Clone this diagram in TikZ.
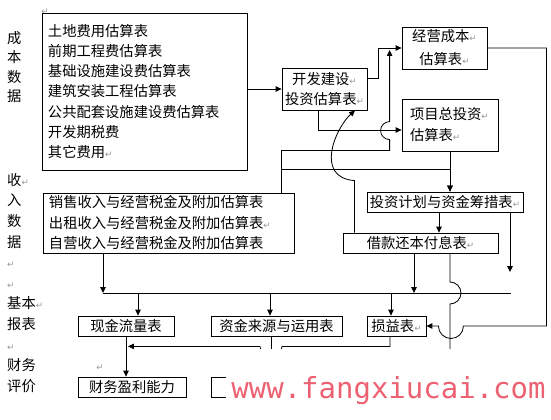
\documentclass[tikz,border=0pt]{standalone}
\usepackage{fontspec}
\setmainfont{Noto Sans CJK SC}
\newfontfamily\symfont{DejaVu Sans}
\newfontfamily\wmfont{DejaVu Sans Mono}
\usetikzlibrary{positioning,arrows.meta,calc}
\definecolor{RetGray}{RGB}{150,150,150}
\definecolor{MarkRed}{RGB}{236,98,114}
\newcommand{\ret}{{\symfont\fontsize{7.5}{7.5}\selectfont\textcolor{RetGray}{↵}}}

\begin{document}
\begin{tikzpicture}[x=0.03cm, y=0.03cm,
  every node/.style={font=\fontsize{12.2}{17.3}\selectfont, inner sep=0pt},
  tbl/.style={draw, line width=0.7pt, minimum height=0.6cm},
  wire/.style={line width=0.7pt},
  lnk/.style={wire, -{Triangle[length=5pt,width=4.6pt]}}]
  \useasboundingbox (0,0) rectangle (551,-420);

  % side labels
  \node[anchor=west, align=left, font=\fontsize{12.2}{16.5}\selectfont] (costlab) at (7,-67) {成\\本\\数\\据};
  \node[anchor=west, align=left, font=\fontsize{12.2}{17.58}\selectfont] (sidelab) at (7,-283)
    {收\ret\\入\\数\\据\\\ret\\\ret\\基本\ret\\报表\\\ret\\财务\\评价};
  \node (rettop) at (45,-12) {\ret};
  \node (reteval) at (100,-368) {\ret};

  % input tables
  \node[tbl, minimum width=6.15cm, minimum height=4.71cm, align=left, text width=5.79cm] (cost) at (144.5,-91.5)
    {土地费用估算表\\前期工程费估算表\\基础设施建设费估算表\\建筑安装工程估算表\\公共配套设施建设费估算表\\开发期税费\\其它费用\ret};
  \node[tbl, minimum width=7.53cm, minimum height=1.8cm, align=left, text width=7.17cm, font=\fontsize{12.2}{17.5}\selectfont] (shouru) at (168.5,-223)
    {销售收入与经营税金及附加估算表\\出租收入与经营税金及附加估算表\ret\\自营收入与经营税金及附加估算表};

  % auxiliary tables
  \node[tbl, minimum width=2.55cm, minimum height=1.26cm, align=center] (kaifa) at (324.5,-89) {开发建设\ret\\投资估算表\ret};
  \node[tbl, minimum width=2.55cm, minimum height=1.26cm, align=center, font=\fontsize{12.2}{19.6}\selectfont] (jingying) at (444.5,-48) {经营成本\ret\\估算表\ret};
  \node[tbl, minimum width=2.88cm, minimum height=1.56cm, align=left, text width=2.4cm, font=\fontsize{12.2}{17.9}\selectfont] (zongtouzi) at (450,-125) {项目总投资\ret\\估算表\ret};
  \node[tbl, minimum width=4.68cm] (jihua) at (445,-202) {投资计划与资金筹措表\ret};
  \node[tbl, minimum width=4.65cm] (jiekuan) at (420.5,-243) {借款还本付息表\ret};

  % basic and evaluation tables
  \node[tbl, minimum width=2.88cm] (xianjin) at (126,-326) {现金流量表};
  \node[tbl, minimum width=3.93cm] (zijin) at (276.5,-326) {资金来源与运用表};
  \node[tbl, minimum width=1.77cm] (sunyi) at (396.5,-326) {损益表\ret};
  \node[tbl, minimum width=3.24cm] (yingli) at (132,-387) {财务盈利能力};
  \node[tbl, minimum width=3.24cm] (changzhai) at (265,-387) {};

  \coordinate (busl) at (103,-293);
  \coordinate (busr) at (511,-293);
  \coordinate (jhend) at (510,-272);
  \coordinate (jkend) at (450,-370);

  % upper links
  \draw[lnk] (cost.east |- kaifa.west) -- (kaifa.west);
  \draw[lnk] ($(kaifa.east)+(0,11)$) -- ++(11,0) |- (jingying.west);
  \draw[lnk] ($(kaifa.south)+(-6.5,0)$) |- ($(zongtouzi.west)+(0,-5)$);
  \draw[lnk] (kaifa.west |- shouru.north) -- ++(0,42) -- ++(108,0) -- ++(0,11)
    arc[start angle=270, end angle=90, radius=9] -- ($(jingying.west)+(-12,-2)$);
  \draw[lnk] (kaifa.west |- shouru.north) -- ++(0,23) -| (zongtouzi.south |- jihua.north);
  \draw[lnk] (zongtouzi.south) -- (zongtouzi.south |- jihua.north);
  \draw[lnk] ($(jiekuan.north)+(-66,0)$) -- ++(0,52) .. controls +(-40,3) and +(-20,-18) .. ($(kaifa.south)+(30.5,0)$);
  \draw[lnk] ($(jihua.south)+(-6,0)$) -- ($(jihua.south |- jiekuan.north)+(-6,0)$);
  \draw[lnk] (jihua.south -| jhend) -- (jhend);

  % bus to basic tables
  \draw[lnk] (shouru.south -| busl) -- (busl);
  \draw[wire] (busl) -- (busr);
  \draw[lnk] ($(jiekuan.south)+(-6.5,0)$) -- ($(jiekuan.south |- busl)+(-6.5,0)$);
  \draw[lnk] ($(busl -| xianjin.north)+(12,0)$) -- ($(xianjin.north)+(12,0)$);
  \draw[lnk] ($(busl -| zijin.north)+(-6.5,0)$) -- ($(zijin.north)+(-6.5,0)$);
  \draw[lnk] ($(busl -| sunyi.north)+(-5.5,0)$) -- ($(sunyi.north)+(-5.5,0)$);
  \draw[wire] ($(jiekuan.south)+(29.5,0)$) -- ($(jiekuan.south |- busl)+(29.5,11)$)
    arc[start angle=90, end angle=-90, radius=11] -- (jkend);
  \draw[lnk] (jingying.east) -- ++(59,0) |- ($(sunyi.east)+(37,0)$)
    arc[start angle=0, end angle=-180, radius=12.5] -- (sunyi.east);

  % evaluation links
  \draw[lnk] (xianjin.south) -- (xianjin.south |- yingli.north);
  \draw[lnk] ($(sunyi.south)+(-6.5,0)$) -- ++(0,-10) -- ($(zijin.south)+(5.5,-10)$)
    arc[start angle=0, end angle=-180, radius=11] -- ($(xianjin.south)+(2,-10)$);
  \draw[lnk] ($(zijin.south)+(-5.5,0)$) -- ($(zijin.south |- changzhai.north)+(-5.5,0)$);

  % watermark
  \node[fill=white, minimum width=9.75cm, minimum height=2.13cm] (wmband) at (388.5,-384.5) {};
  \node[anchor=base, text=MarkRed, font=\wmfont\fontsize{24.75}{26}\selectfont] (wm) at (388.5,-398) {www.fangxiucai.com};
\end{tikzpicture}
\end{document}
